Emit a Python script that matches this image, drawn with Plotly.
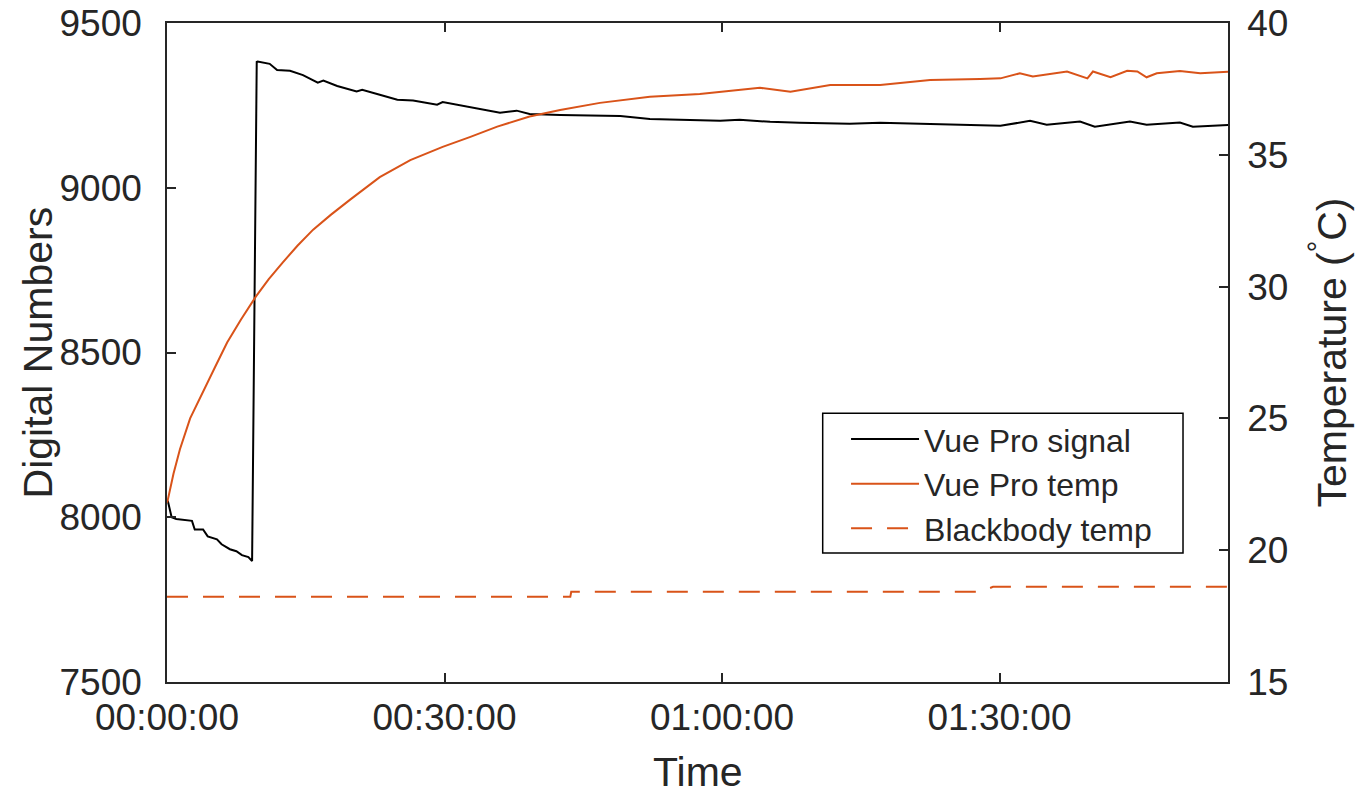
import plotly.graph_objects as go

# Time in minutes
sig_t = [0.0, 0.1, 0.5, 1.0, 2.7, 3.0, 3.9, 4.4, 5.4, 5.9, 6.8, 7.5, 8.1, 8.8, 9.2,
         9.7, 9.8, 11.1, 11.9, 13.3, 14.7, 16.3, 16.9, 18.4, 20.5, 21.1, 23.0, 24.9,
         26.6, 29.2, 29.8, 32.0, 34.2, 36.0, 37.8, 39.2, 42.5, 46.8, 49.0, 52.2, 55.5,
         59.8, 61.9, 65.2, 68.4, 73.8, 77.1, 81.4, 85.7, 90.1, 93.3, 95.1, 98.7, 100.3,
         104.1, 105.9, 109.5, 110.9, 115.0]
sig_v = [8050, 8048, 8000, 7995, 7989, 7963, 7963, 7942, 7933, 7918, 7903, 7897, 7885, 7879, 7867,
         9382, 9383, 9376, 9357, 9355, 9342, 9319, 9325, 9309, 9292, 9297, 9282, 9267,
         9265, 9252, 9260, 9248, 9236, 9228, 9234, 9224, 9221, 9218, 9218, 9209, 9206,
         9203, 9206, 9200, 9197, 9194, 9197, 9194, 9191, 9188, 9203, 9191, 9201, 9185,
         9201, 9191, 9198, 9185, 9191]

temp_t = [0.0, 0.1, 0.7, 1.4, 2.5, 3.9, 5.2, 6.5, 8.0, 9.6, 11.0, 12.5, 14.1, 15.8, 17.7,
          19.8, 23.0, 26.3, 29.8, 32.8, 35.7, 39.2,
          42.5, 46.8, 52.2, 57.6, 64.1, 67.4, 71.7, 77.1, 82.5, 87.9, 90.1, 92.2, 93.6,
          97.3, 99.5, 100.1, 102.0, 103.8, 104.9, 105.9, 107.0, 109.5, 111.7, 115.0]
temp_v = [21.8, 21.93, 22.9, 23.83, 25.0, 25.98, 26.95, 27.88, 28.75, 29.62, 30.28, 30.91, 31.55, 32.16, 32.72,
          33.30, 34.15, 34.80, 35.30, 35.68, 36.07, 36.45,
          36.70, 36.97, 37.20, 37.31, 37.54, 37.39, 37.65, 37.65, 37.84, 37.88, 37.90, 38.09, 37.97,
          38.16, 37.90, 38.16, 37.94, 38.19, 38.16, 37.94, 38.09, 38.18, 38.09, 38.16]

bb_t = [0.0, 43.6, 43.7, 87.9, 89.3, 115.0]
bb_v = [18.23, 18.23, 18.42, 18.42, 18.61, 18.61]

tick_vals = [0, 30, 60, 90]
tick_text = ["00:00:00", "00:30:00", "01:00:00", "01:30:00"]

orange = "#D95319"
axcol = "#262626"
font_family = "Liberation Sans, Arial, sans-serif"

fig = go.Figure()
fig.add_trace(go.Scatter(x=sig_t, y=sig_v, mode="lines", name="Vue Pro signal",
                         line=dict(color="#000000", width=2), yaxis="y"))
fig.add_trace(go.Scatter(x=temp_t, y=temp_v, mode="lines", name="Vue Pro temp",
                         line=dict(color=orange, width=2), yaxis="y2"))
fig.add_trace(go.Scatter(x=bb_t, y=bb_v, mode="lines", name="Blackbody temp",
                         line=dict(color=orange, width=2, dash="21px,15px"), yaxis="y2"))

# legend frame
fig.add_shape(type="rect", xref="paper", yref="paper",
              x0=0.618, x1=0.9576, y0=0.1958, y1=0.408,
              line=dict(color="#000000", width=1.5), fillcolor="white", layer="below")

# axis titles
title_font = dict(family=font_family, size=41, color=axcol)
fig.add_annotation(text="Digital Numbers", xref="paper", yref="paper", x=-0.1216, y=0.5,
                   xanchor="center", yanchor="middle", textangle=-90, showarrow=False,
                   font=title_font)
fig.add_annotation(text="Temperature (<sup>°</sup>C)", xref="paper", yref="paper", x=1.0942, y=0.5,
                   xanchor="center", yanchor="middle", textangle=-90, showarrow=False,
                   font=title_font)
fig.add_annotation(text="Time", xref="paper", yref="paper", x=0.5, y=-0.1366,
                   xanchor="center", yanchor="middle", showarrow=False, font=title_font)

fig.update_layout(
    width=1361, height=796,
    margin=dict(l=167, r=133, t=23, b=114, autoexpand=False),
    paper_bgcolor="white", plot_bgcolor="white",
    font=dict(family=font_family, size=37, color=axcol),
    showlegend=True,
    legend=dict(x=0.640, xanchor="left", y=0.41, yanchor="top",
                borderwidth=0, bgcolor="rgba(0,0,0,0)",
                font=dict(size=32, color=axcol), itemwidth=68,
                tracegroupgap=0),
    xaxis=dict(range=[0, 114.7], tickvals=tick_vals, ticktext=tick_text,
               ticks="inside", ticklen=9, tickwidth=1.5, tickcolor=axcol,
               showline=True, linecolor=axcol, linewidth=1.5, mirror="ticks",
               showgrid=False, zeroline=False, automargin=False, ticklabelstandoff=2,
               ticklabeloverflow="allow"),
    yaxis=dict(range=[7500, 9500], tickvals=[7500, 8000, 8500, 9000, 9500],
               ticks="inside", ticklen=9, tickwidth=1.5, tickcolor=axcol,
               showline=True, linecolor=axcol, linewidth=1.5,
               showgrid=False, zeroline=False, ticklabelstandoff=16, automargin=False,
               ticklabeloverflow="allow"),
    yaxis2=dict(range=[15, 40], tickvals=[15, 20, 25, 30, 35, 40],
                overlaying="y", side="right",
                ticks="inside", ticklen=9, tickwidth=1.5, tickcolor=axcol,
                showline=True, linecolor=axcol, linewidth=1.5,
                showgrid=False, zeroline=False, ticklabelstandoff=10, automargin=False,
                ticklabeloverflow="allow"),
)

fig.write_html("out.html", config={"displayModeBar": False},
               post_script="document.body.style.margin='0';")
